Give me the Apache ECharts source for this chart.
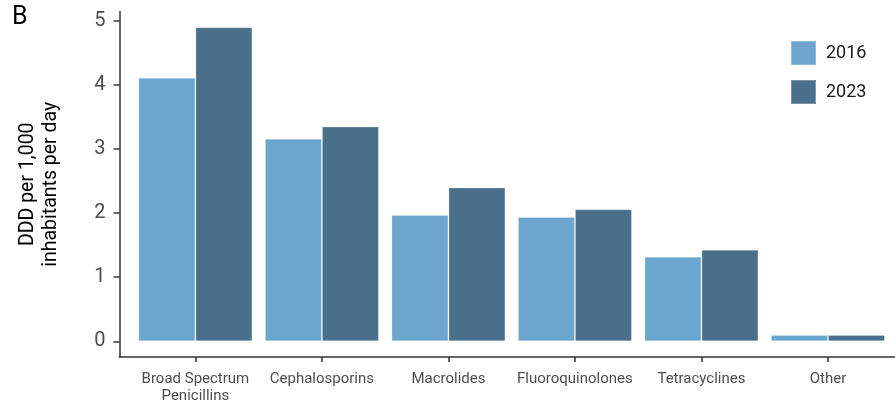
<!DOCTYPE html>
<html>
<head>
<meta charset="utf-8">
<script src="https://cdn.jsdelivr.net/npm/echarts@6/dist/echarts.min.js"></script>
<style>
html,body{margin:0;padding:0;background:#fff;}
#chart{width:895px;height:405px;}
</style>
</head>
<body>
<div id="chart"></div>
<script>
const categories = ['Broad Spectrum\nPenicillins', 'Cephalosporins', 'Macrolides', 'Fluoroquinolones', 'Tetracyclines', 'Other'];
const values2016 = [4.11, 3.16, 1.97, 1.94, 1.32, 0.10];
const values2023 = [4.90, 3.35, 2.40, 2.06, 1.43, 0.10];
const yTicks = [0, 1, 2, 3, 4, 5];
const xTicks = [0, 1, 2, 3, 4, 5];

const chart = echarts.init(document.getElementById('chart'), null, {renderer: 'canvas'});
const font = 'Roboto, "Liberation Sans", Arial, sans-serif';
const axisColor = '#333333';

chart.setOption({
  animation: false,
  textStyle: {fontFamily: font},
  title: {
    text: 'B', left: 12, top: 5, padding: 0,
    textStyle: {fontSize: 25, fontWeight: 'normal', color: '#000', fontFamily: font}
  },
  legend: {
    orient: 'vertical', left: 790, top: 40, padding: 0,
    itemWidth: 25, itemHeight: 24, itemGap: 13,
    icon: 'rect',
    textStyle: {fontSize: 18, color: '#1a1a1a', fontFamily: font, padding: [0, 0, 0, 5]},
    data: ['2016', '2023']
  },
  grid: {left: 119.5, top: 11.5, right: 0, bottom: 46.5, containLabel: false},
  xAxis: {
    type: 'value', min: -0.6, max: 5.53,
    splitLine: {show: false},
    axisLine: {show: true, onZero: false, lineStyle: {color: axisColor, width: 1.5}},
    axisTick: {show: true, customValues: xTicks, length: 5, lineStyle: {color: axisColor, width: 1.5}},
    axisLabel: {
      customValues: xTicks, margin: 14,
      formatter: v => categories[Math.round(v)] || '',
      fontSize: 15, lineHeight: 17, color: '#4d4d4d', fontFamily: font
    }
  },
  yAxis: {
    type: 'value', min: -0.245, max: 5.145,
    name: 'DDD per 1,000\ninhabitants per day',
    nameLocation: 'middle', nameGap: 57, nameRotate: 90,
    nameTextStyle: {fontSize: 19.5, lineHeight: 23, color: '#000', fontFamily: font},
    splitLine: {show: false},
    axisLine: {show: true, onZero: false, lineStyle: {color: axisColor, width: 1.5}},
    axisTick: {show: true, customValues: yTicks, length: 6, lineStyle: {color: axisColor, width: 1.5}},
    axisLabel: {customValues: yTicks, margin: 14, fontSize: 20, color: '#4d4d4d', fontFamily: font}
  },
  series: [
    {
      name: '2016', type: 'bar', barWidth: 57, barGap: '0%',
      itemStyle: {color: '#6ca6ce', borderColor: 'rgba(255,255,255,0.25)', borderWidth: 1},
      data: values2016.map((v, i) => [i, v])
    },
    {
      name: '2023', type: 'bar', barWidth: 57, barGap: '0%',
      itemStyle: {color: '#4a6f8b', borderColor: 'rgba(255,255,255,0.25)', borderWidth: 1},
      data: values2023.map((v, i) => [i, v])
    }
  ]
});
</script>
</body>
</html>
